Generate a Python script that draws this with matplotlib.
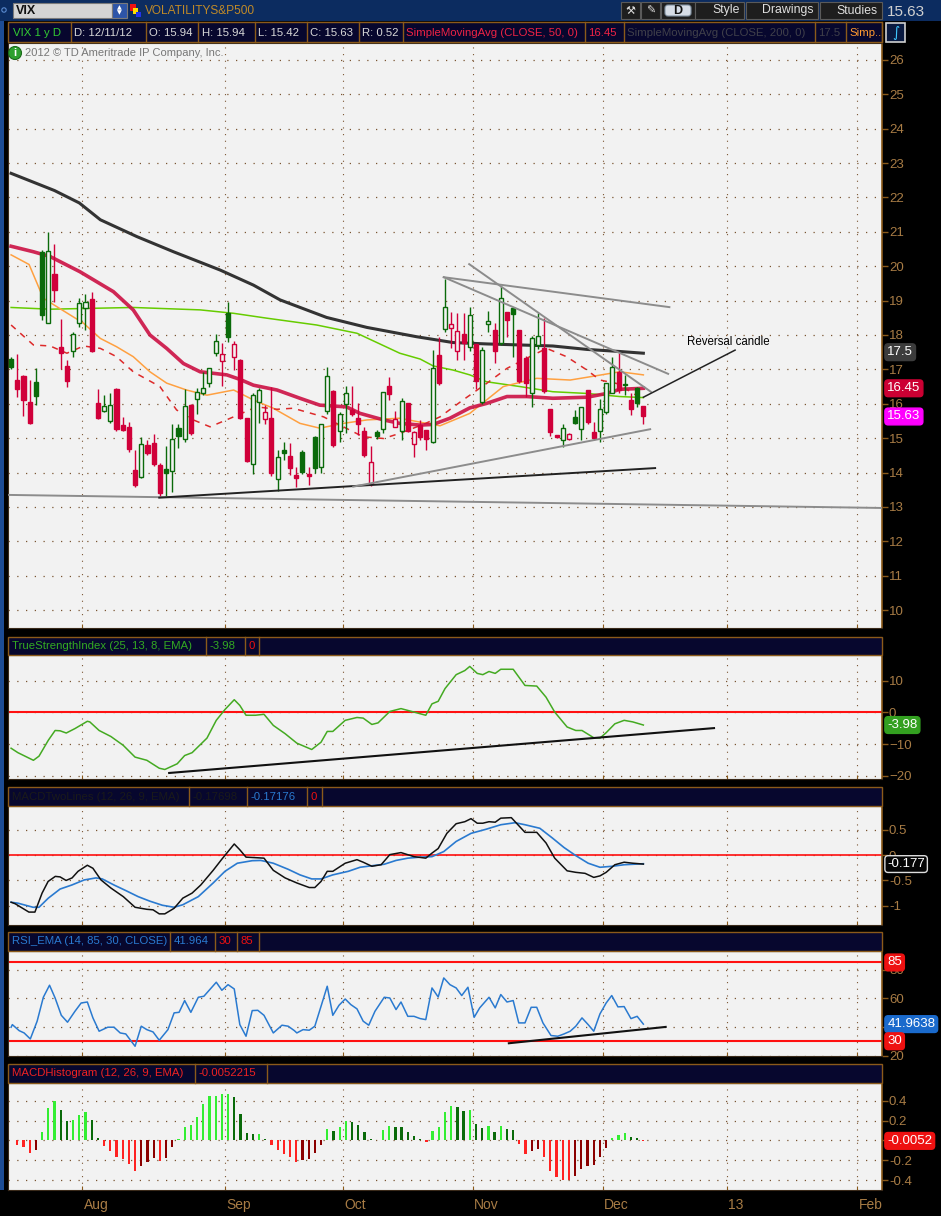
import numpy as np
import matplotlib.pyplot as plt
from matplotlib.patches import Rectangle, Circle, FancyBboxPatch

plt.rcParams['font.family'] = ['Liberation Sans', 'DejaVu Sans']

# ---------------- data ----------------
# daily candles, VIX 16 Jul 2012 .. 11 Dec 2012 (index 0..102)
opens = [17.29, 16.69, 16.81, 16.05, 16.62, 20.40, 18.36, 19.77, 17.65, 17.11,
         17.52, 18.36, 18.78, 19.04, 16.02, 15.80, 15.51, 16.43, 15.38, 15.31,
         14.07, 13.88, 14.79, 14.85, 14.22, 14.10, 14.05, 15.29, 14.97, 15.96,
         16.13, 16.30, 16.59, 17.47, 17.24, 18.65, 17.37, 17.27, 15.58, 14.24,
         16.06, 15.55, 15.58, 13.80, 14.66, 14.48, 13.93, 14.59, 13.96, 15.02,
         14.15, 15.80, 16.37, 15.21, 15.99, 15.82, 15.60, 15.21, 13.66, 15.17,
         15.27, 16.52, 15.33, 15.21, 16.01, 14.83, 15.38, 15.24, 14.88, 17.42,
         18.16, 18.19, 17.52, 18.03, 17.64, 17.74, 16.04, 18.32, 18.15, 17.76,
         18.66, 18.78, 18.15, 17.34, 16.30, 17.71, 17.63, 15.85, 15.09, 14.95,
         14.97, 15.62, 15.27, 16.40, 15.19, 15.22, 15.77, 16.32, 16.93, 16.57,
         16.11, 16.45, 15.94]
highs = [17.35, 17.44, 16.85, 16.69, 17.04, 20.47, 20.99, 20.65, 18.46, 17.27,
         18.10, 19.07, 19.19, 19.25, 16.42, 16.25, 16.30, 16.45, 15.62, 15.46,
         14.66, 15.02, 14.95, 15.12, 14.29, 14.77, 15.41, 15.41, 16.42, 16.00,
         16.45, 16.93, 17.05, 18.03, 17.76, 18.97, 17.82, 17.30, 15.60, 16.30,
         16.45, 15.97, 16.50, 14.67, 14.90, 14.87, 14.17, 14.65, 14.17, 15.06,
         15.42, 17.08, 16.40, 15.75, 16.52, 16.52, 16.01, 15.31, 14.76, 15.24,
         16.35, 16.79, 15.79, 16.18, 16.03, 15.21, 15.53, 15.24, 17.56, 17.95,
         19.63, 18.68, 18.63, 18.63, 18.82, 17.74, 17.64, 18.70, 18.36, 19.41,
         18.66, 18.78, 18.15, 17.39, 17.97, 18.65, 18.50, 15.85, 15.10, 15.41,
         15.14, 15.82, 15.90, 16.40, 15.48, 16.13, 16.61, 17.35, 17.47, 16.84,
         16.32, 16.48, 15.94]
lows = [17.02, 16.21, 15.65, 15.40, 15.96, 18.45, 18.34, 18.97, 17.01, 16.50,
        17.37, 18.22, 18.15, 17.51, 15.55, 15.75, 15.45, 15.22, 15.20, 14.60,
        13.59, 13.85, 14.50, 14.20, 13.28, 13.32, 13.44, 14.72, 14.90, 15.10,
        15.70, 16.25, 16.48, 17.40, 16.53, 17.80, 16.98, 15.55, 14.30, 13.96,
        15.43, 15.41, 13.91, 13.47, 14.36, 13.93, 13.57, 13.95, 13.64, 13.98,
        14.00, 15.70, 14.75, 14.90, 15.14, 15.65, 15.09, 14.45, 13.60, 14.99,
        15.14, 16.11, 15.32, 14.95, 15.18, 14.46, 14.95, 14.66, 14.85, 16.55,
        18.10, 17.61, 17.27, 17.27, 17.52, 16.42, 16.00, 18.10, 17.18, 17.71,
        17.95, 17.37, 16.60, 16.20, 15.90, 17.60, 16.30, 15.06, 15.00, 14.73,
        14.95, 15.40, 14.96, 15.40, 14.95, 14.90, 15.70, 16.30, 16.30, 16.25,
        15.67, 15.92, 15.42]
closes = [17.08, 16.44, 16.11, 15.43, 16.23, 18.58, 20.45, 19.31, 17.49, 16.67,
          18.03, 18.92, 18.96, 17.53, 15.60, 15.93, 15.95, 15.26, 15.24, 14.69,
          13.64, 14.82, 14.58, 14.25, 13.41, 13.98, 14.99, 15.07, 15.93, 15.14,
          16.33, 16.45, 17.03, 17.82, 17.44, 17.95, 17.73, 15.58, 14.35, 16.26,
          16.40, 15.77, 13.98, 14.46, 14.56, 14.12, 13.85, 14.02, 13.91, 14.12,
          15.40, 16.81, 14.80, 15.70, 16.30, 15.69, 15.41, 14.51, 14.30, 15.07,
          16.33, 16.28, 15.55, 16.09, 15.21, 15.19, 15.04, 14.99, 17.03, 16.59,
          18.80, 18.31, 18.12, 17.76, 18.58, 16.66, 17.56, 18.41, 17.54, 19.07,
          18.44, 18.60, 16.66, 16.61, 17.90, 17.97, 16.38, 15.19, 15.04, 15.29,
          15.12, 15.45, 15.90, 15.48, 15.01, 15.84, 16.61, 17.08, 16.40, 16.54,
          15.85, 16.01, 15.63]
close_before = 16.95  # close of the session just left of the chart

# moving averages (sampled along the lines)
sma200_x = [0, 7, 11, 14.4, 20.3, 26.2, 33.7, 39.1, 43.4, 50.9, 57.4, 65.4, 71.3, 76.7, 82.1, 87.4, 92.9, 98.2, 102]
sma200_y = [22.70, 22.20, 21.84, 21.35, 20.86, 20.42, 19.89, 19.45, 19.02, 18.51, 18.22, 17.95, 17.78, 17.74, 17.71, 17.68, 17.58, 17.52, 17.47]
sma50_x = [0, 3.6, 6.3, 11.1, 13.8, 16.5, 19.7, 22.4, 25.1, 27.8, 30.5, 34.8, 36.9, 39.1, 42.9, 46.6, 49.8, 54.1, 56.3,
           60.1, 62.7, 66.0, 68.1, 70.8, 74.0, 76.7, 80.0, 83.2, 87.4, 92.9, 96.1, 98.2, 102]
sma50_y = [20.58, 20.42, 20.28, 19.84, 19.55, 19.26, 18.73, 18.00, 17.61, 17.17, 16.93, 16.84, 16.71, 16.54, 16.40, 16.16,
           15.96, 15.91, 15.72, 15.53, 15.43, 15.38, 15.40, 15.58, 15.88, 16.01, 16.21, 16.21, 16.16, 16.19, 16.30, 16.42, 16.45]
sma100_x = [0, 6.3, 19.7, 30.5, 35.9, 41.2, 49.3, 55.8, 62.7, 66.0, 68.1, 71.3, 74.0, 76.7, 82.1, 87.4, 92.9, 98.2, 102]
sma100_y = [18.80, 18.75, 18.80, 18.73, 18.63, 18.49, 18.29, 18.05, 17.47, 17.30, 17.10, 16.98, 16.84, 16.64, 16.50, 16.35, 16.30, 16.21, 16.18]
sma20_x = [0, 2.9, 5.2, 7.4, 11.7, 14.4, 17.0, 19.7, 22.4, 25.1, 28.3, 31.6, 35.9, 39.1, 42.3, 46.6, 49.8, 53.6, 57.4,
           62.7, 67.0, 69.2, 74.0, 79.4, 84.8, 90.2, 92.9, 98.2, 102]
sma20_y = [20.33, 20.05, 19.07, 18.82, 18.34, 17.90, 17.66, 17.37, 16.93, 16.60, 16.40, 16.25, 16.40, 16.11, 15.87, 15.43,
           15.29, 15.43, 15.53, 15.58, 15.43, 15.36, 15.72, 16.50, 16.74, 16.69, 16.77, 16.93, 16.84]
sma10_x = [0, 3.6, 6.3, 9.0, 11.7, 14.4, 17.0, 19.7, 24.0, 26.7, 29.4, 32.1, 35.9, 39.6, 42.9, 45.5, 50.4, 53.6, 56.8,
           60.1, 62.7, 66.5, 69.2, 72.9, 76.7, 80.0, 83.7, 86.4, 89.6, 92.9, 95.0, 97.7, 100.4, 102]
sma10_y = [18.29, 17.71, 17.68, 17.47, 17.68, 17.61, 17.37, 16.93, 16.50, 15.82, 15.53, 15.33, 15.62, 15.91, 15.84, 15.87,
           15.62, 15.33, 15.04, 14.99, 15.14, 15.40, 15.62, 16.11, 16.59, 17.03, 17.37, 17.61, 17.37, 16.98, 16.69, 16.59, 16.30, 16.11]

# drawn trend lines on the price panel: (x0, y0, x1, y1, colour)
price_lines = [(-0.5, 13.35, 140.5, 12.97, '#8c8c8c'),
               (23.9, 13.27, 103.9, 14.13, '#222222'),
               (55.2, 13.59, 103.1, 15.26, '#8c8c8c'),
               (69.8, 19.68, 106.2, 18.81, '#8c8c8c'),
               (69.8, 19.68, 106.0, 16.87, '#8c8c8c'),
               (73.9, 20.06, 103.2, 16.35, '#8c8c8c')]
note_line = (102.0, 16.19, 116.8, 17.56)

# True Strength Index
tsi_x = [0, 1.1, 3.6, 4.5, 6.0, 7.1, 7.9, 8.9, 10.3, 12.3, 12.7, 14.2, 16.1, 18.1, 20.0, 21.9, 23.9, 24.8, 26.8, 28.0,
         29.2, 31.6, 33.1, 34.5, 36.0, 36.9, 37.9, 39.4, 40.8, 42.3, 44.2, 46.1, 48.5, 50.0, 51.0, 51.9, 53.9, 55.8, 56.8,
         58.2, 59.2, 61.1, 62.9, 65.0, 66.9, 67.9, 68.9, 70.0, 71.8, 73.2, 74.0, 75.2, 76.1, 77.1, 78.1, 79.0, 81.0, 82.9,
         84.8, 86.3, 87.7, 89.7, 91.1, 92.1, 94.0, 95.0, 96.0, 97.4, 98.9, 100.3, 102]
tsi_y = [-11.3, -12.7, -15.1, -13.8, -8.8, -5.7, -5.8, -6.5, -5.1, -2.8, -3.0, -5.7, -7.6, -10.4, -14.1, -15.1, -17.6,
         -18.0, -16.2, -13.6, -12.7, -8.1, -2.5, 0.9, 4.0, 2.2, -0.9, -0.9, -0.6, -4.1, -6.7, -9.7, -11.7, -9.4, -6.0,
         -6.0, -2.5, -1.6, -1.8, -3.8, -3.3, 0.3, 1.2, 0.1, -0.9, 2.7, 3.5, 7.5, 11.9, 13.2, 14.5, 12.3, 11.9, 12.9, 12.3,
         13.6, 13.6, 8.5, 8.3, 4.8, 0.1, -4.6, -5.7, -5.7, -8.0, -8.1, -6.4, -3.6, -2.5, -3.0, -3.98]
tsi_trend = (25.5, -19.1, 113.4, -4.95)

# MACD two lines
macd_x = [0, 0.65, 2.87, 3.84, 5.0, 5.97, 7.13, 7.9, 8.87, 9.84, 10.8, 12.3, 13.2, 14.5, 16.1, 18.1, 20.0, 21.9, 22.9,
          23.9, 24.8, 26.3, 27.7, 29.2, 30.6, 32.6, 34.0, 36.0, 36.9, 37.9, 39.4, 40.8, 42.3, 44.2, 46.1, 48.1, 49.0,
          50.0, 51.0, 51.9, 53.9, 55.8, 56.8, 58.2, 59.7, 61.1, 62.9, 65.0, 66.9, 67.9, 68.9, 70.3, 71.8, 73.2, 74.2,
          75.2, 76.1, 77.1, 78.1, 79.0, 80.7, 82.9, 84.8, 86.3, 87.7, 89.7, 91.1, 92.6, 94.0, 95.0, 96.0, 97.4, 98.9,
          100.3, 102]
macd_y = [-0.93, -0.96, -1.125, -1.125, -0.75, -0.52, -0.42, -0.43, -0.50, -0.45, -0.32, -0.20, -0.26, -0.49, -0.65,
          -0.82, -1.03, -1.07, -1.08, -1.16, -1.16, -1.05, -0.85, -0.75, -0.59, -0.30, -0.08, 0.22, 0.105, -0.04, -0.05,
          -0.06, -0.30, -0.45, -0.55, -0.64, -0.64, -0.52, -0.32, -0.32, -0.16, -0.09, -0.14, -0.22, -0.19, 0.01, 0.05,
          -0.03, -0.06, 0.04, 0.13, 0.43, 0.62, 0.66, 0.72, 0.63, 0.63, 0.66, 0.65, 0.73, 0.74, 0.45, 0.45, 0.24, -0.06,
          -0.31, -0.34, -0.36, -0.44, -0.41, -0.34, -0.19, -0.14, -0.16, -0.177]
signal_x = [0, 1.13, 3.55, 4.5, 6.0, 7.9, 9.8, 11.8, 13.7, 14.7, 16.6, 18.5, 20.5, 22.4, 24.4, 26.3, 27.7, 30.2, 32.6,
            34.5, 36.5, 38.9, 40.3, 42.3, 44.7, 46.6, 48.5, 50.0, 51.9, 54.4, 56.3, 58.2, 60.2, 62.1, 64.0, 66.0, 67.9,
            69.8, 71.8, 74.2, 76.6, 79.0, 81.3, 82.9, 85.3, 87.3, 89.2, 91.1, 93.1, 95.0, 97.0, 98.9, 102]
signal_y = [-0.93, -0.95, -1.03, -1.03, -0.85, -0.67, -0.59, -0.49, -0.45, -0.47, -0.59, -0.70, -0.82, -0.91, -0.99,
            -1.03, -0.98, -0.82, -0.55, -0.32, -0.16, -0.11, -0.105, -0.16, -0.28, -0.39, -0.47, -0.47, -0.39, -0.32,
            -0.24, -0.21, -0.18, -0.105, -0.06, -0.04, -0.03, 0.07, 0.27, 0.43, 0.51, 0.60, 0.64, 0.60, 0.53, 0.34,
            0.15, -0.01, -0.16, -0.24, -0.22, -0.19, -0.17]

# RSI_EMA
rsi_x = [0, 0.2, 1.3, 2.1, 3.1, 4.2, 5.2, 6.2, 7.1, 8.1, 9.1, 10.3, 11.3, 12.3, 13.2, 14.2, 15.6, 16.6, 17.6, 18.5,
         20.0, 21.0, 21.9, 22.9, 23.9, 25.3, 26.3, 27.1, 28.0, 29.0, 30.2, 31.1, 33.1, 34.0, 35.0, 36.0, 36.9, 37.9,
         38.9, 39.8, 40.8, 42.3, 43.7, 44.7, 45.7, 46.1, 47.1, 48.1, 49.0, 50.0, 51.0, 51.9, 52.9, 53.9, 54.8, 55.8,
         56.8, 57.7, 58.7, 60.2, 61.1, 62.1, 62.9, 64.0, 65.0, 66.0, 66.9, 67.9, 68.9, 69.8, 70.8, 71.8, 72.7, 73.7,
         74.7, 75.6, 77.1, 78.1, 79.0, 80.0, 81.0, 81.9, 82.9, 83.9, 84.8, 85.8, 87.1, 88.2, 89.2, 90.2, 91.1, 92.1,
         93.1, 94.0, 95.0, 96.0, 96.9, 97.9, 98.9, 100.0, 101.0, 102]
rsi_y = [39.8, 41.6, 37.4, 35.8, 31.6, 44.0, 60.7, 69.1, 60.2, 48.1, 43.3, 50.9, 56.7, 57.4, 46.3, 37.0, 39.8, 39.8,
         35.8, 35.1, 26.5, 40.5, 38.1, 36.5, 30.7, 38.1, 49.8, 50.2, 58.4, 50.2, 60.7, 61.4, 71.2, 65.6, 69.5, 66.5,
         41.6, 33.5, 51.4, 51.6, 48.1, 35.8, 41.2, 40.5, 37.4, 35.8, 38.1, 37.7, 40.5, 54.4, 68.4, 48.1, 55.1, 59.5,
         55.6, 52.6, 44.0, 41.2, 50.9, 60.7, 60.2, 52.1, 57.4, 47.4, 47.4, 45.8, 45.1, 67.2, 60.9, 74.2, 69.5, 67.2,
         61.9, 67.7, 46.7, 53.3, 60.7, 53.3, 62.6, 57.4, 58.4, 42.8, 42.8, 53.7, 53.7, 42.8, 34.0, 33.5, 35.1, 37.0,
         40.5, 46.3, 41.6, 37.0, 49.1, 56.7, 61.9, 54.0, 54.2, 45.8, 47.4, 41.96]
rsi_trend = (80.3, 28.6, 105.6, 40.0)

# MACD histogram, one bar per session
hist = [0.0, -0.05, -0.07, -0.13, -0.094, 0.084, 0.326, 0.40, 0.306, 0.198,
        0.205, 0.255, 0.286, 0.205, 0.024, -0.06, -0.104, -0.17, -0.185, -0.235,
        -0.306, -0.255, -0.22, -0.18, -0.21, -0.18, -0.07, 0.01, 0.13, 0.158,
        0.24, 0.366, 0.444, 0.45, 0.467, 0.47, 0.434, 0.266, 0.074, 0.064,
        0.068, 0.013, -0.05, -0.094, -0.138, -0.168, -0.222, -0.198, -0.188, -0.128,
        -0.044, 0.118, 0.097, 0.131, 0.20, 0.19, 0.158, 0.084, 0.013, 0.007,
        0.108, 0.14, 0.134, 0.13, 0.084, 0.04, 0.013, -0.017, 0.097, 0.134,
        0.29, 0.343, 0.333, 0.30, 0.31, 0.165, 0.124, 0.141, 0.084, 0.141,
        0.118, 0.108, -0.037, -0.134, -0.11, -0.084, -0.17, -0.313, -0.373, -0.397,
        -0.397, -0.356, -0.286, -0.262, -0.245, -0.17, -0.077, 0.024, 0.05, 0.074,
        0.034, 0.024, -0.0052]

# month boundaries (session index) and labels
month_pos = [11.5, 34.5, 53.5, 74.5, 95.5, 115.5, 136.5]
month_lbl = ['Aug', 'Sep', 'Oct', 'Nov', 'Dec', '13', 'Feb']

# ---------------- figure ----------------
W, H = 941, 1216
BG = '#f2f2f2'
GRID = '#7a5432'
AXC = '#8b5a1a'
TXT = '#a87c45'
GREEN = '#0a6a0a'
RED = '#d0003a'
HFS = 8.2   # header font size

fig = plt.figure(figsize=(W / 100, H / 100), dpi=100, facecolor='black')


def panel(top, bottom, ylim, yticks, labels=None):
    ax = fig.add_axes([8 / W, 1 - bottom / H, 874 / W, (bottom - top) / H])
    ax.set_facecolor(BG)
    ax.set_xlim(-0.5, 140.5)
    ax.set_ylim(*ylim)
    for s in ax.spines.values():
        s.set_color('#3a2a1a')
    ax.spines['right'].set_color(AXC)
    ax.spines['right'].set_linewidth(1.2)
    ax.yaxis.tick_right()
    ax.set_yticks(yticks)
    if labels is not None:
        ax.set_yticklabels(labels)
    ax.tick_params(axis='y', colors=AXC, labelcolor=TXT, labelsize=9.5, length=4, width=1, pad=1)
    ax.set_xticks(month_pos)
    ax.tick_params(axis='x', colors=AXC, length=3, direction='in', labelbottom=False)
    for xv in month_pos:
        ax.axvline(xv, color=GRID, lw=0.8, ls=(0, (1, 5)), zorder=0)
    for yv in yticks:
        ax.axhline(yv, color=GRID, lw=0.9, ls=(0, (1, 6)), zorder=0)
    return ax


def value_box(ax, y, s, face, fg='white', edge=None):
    ax.text(1.006, y, s, transform=ax.get_yaxis_transform(), ha='left', va='center',
            fontsize=9.5, color=fg, clip_on=False, zorder=30,
            bbox=dict(boxstyle='round,pad=0.18,rounding_size=0.25', fc=face, ec=edge or face, lw=1))


# ---- price panel
ax = panel(43, 628, (9.48, 26.49), list(range(10, 27)))
for i in range(len(closes)):
    prev = closes[i - 1] if i else close_before
    col = GREEN if closes[i] >= prev else RED
    ax.vlines(i, lows[i], highs[i], color=col, lw=1, zorder=3)
    lo, hi = min(opens[i], closes[i]), max(opens[i], closes[i])
    hi = max(hi, lo + 0.04)
    hollow = closes[i] > opens[i]
    ax.add_patch(Rectangle((i - 0.33, lo), 0.66, hi - lo, fc=BG if hollow else col, ec=col, lw=1, zorder=4))

ax.plot(sma100_x, sma100_y, color='#66cc00', lw=1.1, zorder=2)
ax.plot(sma20_x, sma20_y, color='#ffa040', lw=1.1, zorder=2)
ax.plot(sma10_x, sma10_y, color='#dd2a2a', lw=1.1, ls=(0, (4, 4)), zorder=2)
ax.plot(sma50_x, sma50_y, color='#cc1144', lw=2.6, alpha=0.9, zorder=2)
ax.plot(sma200_x, sma200_y, color='#333333', lw=2.2, zorder=2)
for x0, y0, x1, y1, c in price_lines:
    ax.plot([x0, x1], [y0, y1], color=c, lw=1.4, zorder=5)
ax.plot(note_line[::2], note_line[1::2], color='#222222', lw=1.1, zorder=5)
ax.text(109, 17.8, 'Reversal candle', fontsize=8.3, color='black', ha='left', va='center', zorder=6)
value_box(ax, 17.5, '17.5', '#3c3c3c')
value_box(ax, 16.45, '16.45', '#cc0033')
value_box(ax, 15.63, '15.63', '#ff00ff')

# ---- TSI panel
ax = panel(655, 779, (-21.0, 18.1), [-20, -10, 0, 10])
ax.axhline(0, color='#ff1010', lw=1.5, zorder=2)
ax.plot(tsi_x, tsi_y, color='#44aa22', lw=1.1, zorder=3)
ax.plot(tsi_trend[::2], tsi_trend[1::2], color='#111111', lw=1.5, zorder=3)
value_box(ax, -3.98, '-3.98', '#33a020')

# ---- MACD two lines panel
ax = panel(806, 925, (-1.38, 0.97), [-1, -0.5, 0, 0.5], ['-1', '-0.5', '0', '0.5'])
ax.axhline(0, color='#ff1010', lw=1.2, zorder=2)
ax.plot(signal_x, signal_y, color='#2a7ad0', lw=1.2, zorder=3)
ax.plot(macd_x, macd_y, color='#111111', lw=1.1, zorder=3)
value_box(ax, -0.177, '-0.177', '#050505', edge='#dddddd')

# ---- RSI panel
ax = panel(951, 1056, (19.7, 93.0), [20, 40, 60, 80], ['20', '', '60', '80'])
ax.axhline(85, color='#ff1010', lw=1.5, zorder=2)
ax.axhline(30, color='#ff1010', lw=1.5, zorder=2)
ax.plot(rsi_x, rsi_y, color='#2a7ad0', lw=1.1, zorder=3)
ax.plot(rsi_trend[::2], rsi_trend[1::2], color='#111111', lw=1.5, zorder=3)
value_box(ax, 85, '85', '#ee1111')
value_box(ax, 41.9638, '41.9638', '#1a6acc')
value_box(ax, 30, '30', '#ee1111')

# ---- MACD histogram panel
ax = panel(1083, 1190, (-0.50, 0.578), [-0.4, -0.2, 0, 0.2, 0.4], ['-0.4', '-0.2', '', '0.2', '0.4'])
for i, v in enumerate(hist):
    prev = hist[i - 1] if i else 0
    if v >= 0:
        c = '#33ee33' if v >= prev else '#0a6a0a'
    else:
        c = '#ff2222' if v <= prev else '#8b0000'
    ax.bar(i, v, width=0.36, color=c, zorder=3)
value_box(ax, -0.0052, '-0.0052', '#ee1111')
for xv, lb in zip(month_pos, month_lbl):
    ax.text(xv + 0.2, -0.14, lb, transform=ax.get_xaxis_transform(), ha='left', va='center',
            fontsize=10, color=TXT, clip_on=False)

# ---------------- chrome (pixel overlay) ----------------
ov = fig.add_axes([0, 0, 1, 1], zorder=10)
ov.set_xlim(0, W)
ov.set_ylim(H, 0)
ov.axis('off')
ov.patch.set_alpha(0)

# top tool bar
ov.add_patch(Rectangle((0, 0), W, 21, fc='#0c2c60', ec='none'))
ov.add_patch(Rectangle((0, 21), 4, 1169, fc='#1d4c94', ec='none'))
ov.add_patch(Circle((4, 10), 2.2, fc='none', ec='#5a8ad0', lw=0.8))
ov.add_patch(Rectangle((13, 3), 99, 15, fc='#d4d4d4', ec='#7a7a7a', lw=0.8))
ov.text(16, 10.5, 'VIX', fontsize=9, color='#111111', va='center', fontweight='bold')
ov.add_patch(Rectangle((112, 3), 15, 15, fc='#2d55a8', ec='#7a7a7a', lw=0.8))
ov.text(119.5, 10.5, '▲\n▼', fontsize=4.5, color='white', ha='center', va='center', linespacing=0.9,
        family='DejaVu Sans')
ov.add_patch(Rectangle((130, 4), 6, 7, fc='#ee1111', ec='none'))
ov.add_patch(Rectangle((133, 8), 5, 6, fc='#ffdd00', ec='none'))
ov.add_patch(Rectangle((136, 12), 5, 5, fc='#2233ee', ec='none'))
ov.text(145, 11, 'VOLATILITYS&P500', fontsize=8.6, color='#c08a28', va='center')
for bx, bw in [(621, 19), (641, 19)]:
    ov.add_patch(Rectangle((bx, 2), bw, 17, fc='#1e1e1e', ec='#5a5a5a', lw=0.8))
ov.text(630.5, 10.5, '⚒', fontsize=8, color='#dddddd', ha='center', va='center', family='DejaVu Sans')
ov.text(650.5, 10.5, '✎', fontsize=8, color='#dddddd', ha='center', va='center', family='DejaVu Sans')
ov.add_patch(Rectangle((661, 2), 34, 17, fc='#1e1e1e', ec='#5a5a5a', lw=0.8))
ov.add_patch(FancyBboxPatch((665, 5), 26, 11, boxstyle='round,pad=0,rounding_size=3', fc='#d6dde6', ec='#8090a0', lw=0.8))
ov.text(678, 10.7, 'D', fontsize=9, color='#111111', ha='center', va='center', fontweight='bold')
for bx, bw, lb in [(695, 49, 'Style'), (746, 72, 'Drawings'), (820, 62, 'Studies')]:
    ov.add_patch(Rectangle((bx, 2), bw, 17, fc='#1e1e1e', ec='#5a5a5a', lw=0.8))
    ov.text(bx + bw - 4, 10.5, lb, fontsize=8.8, color='#e0e0e0', ha='right', va='center')
ov.text(887, 11.5, '15.63', fontsize=11, color='#d0d0d0', va='center')

# price header row
ov.add_patch(Rectangle((8, 22), 874, 20, fc='#07072e', ec=AXC, lw=1))
cells = [(71, 'VIX 1 y D', '#33cc33', 13), (146, 'D: 12/11/12', '#d8d8d8', 74), (198, 'O: 15.94', '#d8d8d8', 149),
         (255, 'H: 15.94', '#d8d8d8', 202), (307, 'L: 15.42', '#d8d8d8', 258), (359, 'C: 15.63', '#d8d8d8', 310),
         (403, 'R: 0.52', '#d8d8d8', 362), (585, 'SimpleMovingAvg (CLOSE, 50, 0)', '#ee2244', 406),
         (624, '16.45', '#ee2244', 588), (815, 'SimpleMovingAvg (CLOSE, 200, 0)', '#40404a', 627),
         (846, '17.5', '#40404a', 818), (882, 'Simp..', '#ff9a30', 849)]
for sep, lb, c, tx in cells:
    ov.plot([sep, sep], [22, 42], color=AXC, lw=1)
    ov.text(tx, 32.5, lb, fontsize=HFS, color=c, va='center')
ov.add_patch(Rectangle((886, 23), 19, 19, fc='#0a1a40', ec='#d0d0d0', lw=1.2))
ov.text(895.5, 32.5, '∫', fontsize=10, color='#40c8ff', ha='center', va='center', family='DejaVu Sans')

# copyright line
ov.add_patch(Circle((15, 53), 6.5, fc='#2ea02e', ec='#1a6a1a', lw=0.8))
ov.text(15, 53.5, 'i', fontsize=8, color='white', ha='center', va='center', fontweight='bold')
ov.text(25, 53.5, '2012 © TD Ameritrade IP Company, Inc.', fontsize=8, color='#777777', va='center')


def study_header(top, items):
    ov.add_patch(Rectangle((8, top), 874, 18.5, fc='#07072e', ec=AXC, lw=1))
    x = 8
    for w, lb, c in items:
        ov.text(x + 4, top + 9.5, lb, fontsize=HFS, color=c, va='center')
        x += w
        ov.plot([x, x], [top, top + 18.5], color=AXC, lw=1)


study_header(636.5, [(198, 'TrueStrengthIndex (25, 13, 8, EMA)', '#33aa22'), (39, '-3.98', '#33aa22'),
                     (14, '0', '#ee1111')])
study_header(787, [(181, 'MACDTwoLines (12, 26, 9, EMA)', '#1a1a1a'), (58, '-0.17698', '#1a1a1a'),
                   (60, '-0.17176', '#2a7ad0'), (15, '0', '#ee1111')])
study_header(932, [(162, 'RSI_EMA (14, 85, 30, CLOSE)', '#2a7ad0'), (45, '41.964', '#2a7ad0'),
                   (22, '30', '#ee1111'), (22, '85', '#ee1111')])
study_header(1064, [(187, 'MACDHistogram (12, 26, 9, EMA)', '#ee2222'), (72, '-0.0052215', '#ee2222')])

fig.savefig('out.png', dpi=100, facecolor='black')
